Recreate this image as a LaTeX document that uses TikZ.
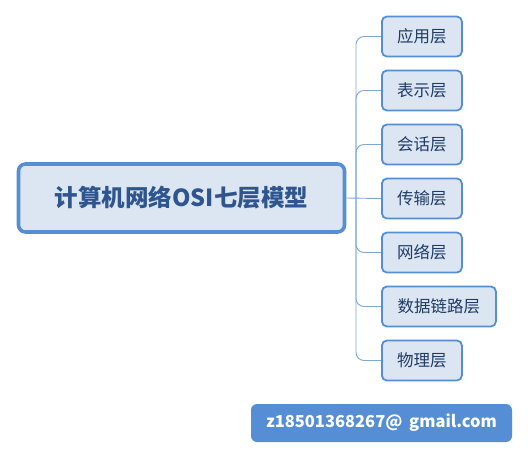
\documentclass[tikz,border=0pt]{standalone}
\usepackage{fontspec}
\setmainfont{Noto Sans CJK SC}
\definecolor{boxfill}{HTML}{DCE6F2}
\definecolor{boxline}{HTML}{558ED5}
\definecolor{linkc}{HTML}{7EA6D8}
\definecolor{txtc}{HTML}{1F3B66}
\definecolor{titlec}{HTML}{2E5590}
\begin{document}
\begin{tikzpicture}[x=1pt,y=-1pt,
  layer/.style={draw=boxline, line width=1.8pt, fill=boxfill, rounded corners=5pt,
    minimum height=40pt, anchor=west, inner xsep=0pt, text=txtc,
    font=\fontsize{16.5}{19}\selectfont},
  titlebox/.style={draw=boxline, line width=3.6pt, fill=boxfill, rounded corners=7pt,
    minimum width=326pt, minimum height=68pt, text=titlec,
    font=\fontsize{23.5}{27}\selectfont\bfseries},
  link/.style={draw=linkc, line width=0.9pt, rounded corners=8pt},
  mailbox/.style={fill=boxline, rounded corners=6pt, minimum width=261pt,
    minimum height=38pt, text=white, font=\fontsize{16.5}{19}\selectfont\bfseries}]
\useasboundingbox (0,0) rectangle (528,459);
\node[titlebox] (main) at (181.5,198) {计算机网络OSI七层模型};
\node[layer, minimum width=80pt] (l1) at (381,36.5) {应用层};
\node[layer, minimum width=80pt] (l2) at (381,90.5) {表示层};
\node[layer, minimum width=80pt] (l3) at (381,144.5) {会话层};
\node[layer, minimum width=80pt] (l4) at (381,198.5) {传输层};
\node[layer, minimum width=80pt] (l5) at (381,252.5) {网络层};
\node[layer, minimum width=114pt] (l6) at (381,306.5) {数据链路层};
\node[layer, minimum width=80pt] (l7) at (381,360.5) {物理层};
\coordinate (trunk) at (356,198);
\draw[link] (main.east) -- (l4.west);
\foreach \n in {l1,l2,l3} \draw[link] (trunk) -- (trunk |- \n.west) -- (\n.west);
\foreach \n in {l5,l6,l7} \draw[link] (trunk) -- (trunk |- \n.west) -- (\n.west);
\node[mailbox] (mail) at (381.5,423) {z18501368267@\hspace{0.4em}gmail.com};
\end{tikzpicture}
\end{document}
